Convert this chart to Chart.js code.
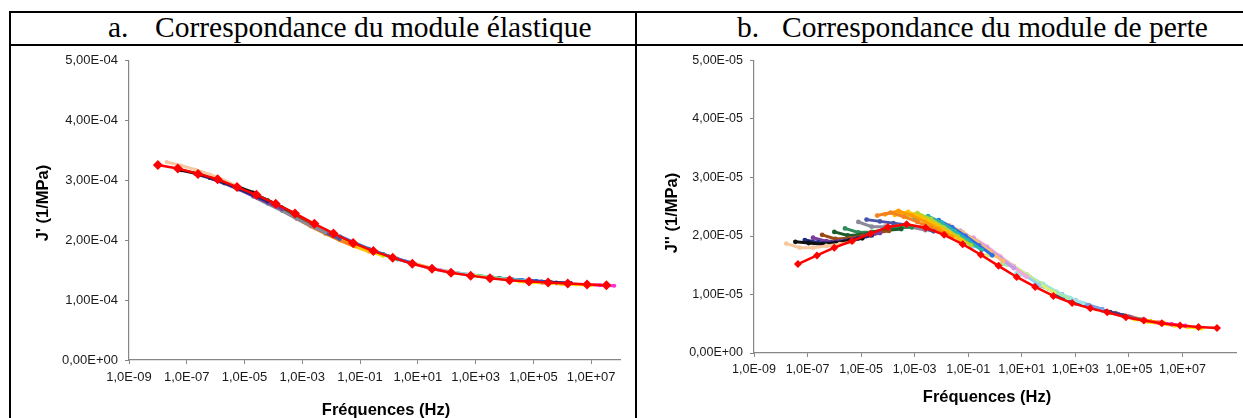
<!DOCTYPE html>
<html>
<head>
<meta charset="utf-8">
<script src="https://cdn.jsdelivr.net/npm/chart.js@4.4.0/dist/chart.umd.min.js"></script>
<style>
  body { margin: 0; background: #fff; width: 1243px; height: 418px; overflow: hidden; position: relative; }
  .rule { position: absolute; background: #000; z-index: 2; }
  .head { position: absolute; top: 9px; font-family: "Liberation Serif", "Times New Roman", serif; font-size: 29.5px; line-height: 36px; color: #000; white-space: nowrap; }
  canvas { position: absolute; }
</style>
</head>
<body>
<div class="rule" style="left:9px;top:11px;width:1234px;height:2px"></div>
<div class="rule" style="left:9px;top:44px;width:1234px;height:2px"></div>
<div class="rule" style="left:9px;top:11px;width:2px;height:407px"></div>
<div class="rule" style="left:635px;top:11px;width:2px;height:407px"></div>
<div class="head" style="left:108px">a.</div>
<div class="head" style="left:155px">Correspondance du module élastique</div>
<div class="head" style="left:737px">b.</div>
<div class="head" style="left:782px">Correspondance du module de perte</div>
<canvas id="chartA" width="636" height="372" style="left:0;top:46px"></canvas>
<canvas id="chartB" width="606" height="372" style="left:637px;top:46px"></canvas>
<script>
// frequences mesurees (Hz), identiques pour chaque isotherme
const measFreqs = [1, 3.16, 10, 31.6, 100, 316];

// graduations
const freqTicks = [1e-9, 1e-7, 1e-5, 1e-3, 1e-1, 1e1, 1e3, 1e5, 1e7];
const yTicksA = [0, 1e-4, 2e-4, 3e-4, 4e-4, 5e-4];
const yTicksB = [0, 1e-5, 2e-5, 3e-5, 4e-5, 5e-5];

// a. J' -- courbe maitresse (rouge), valeurs en 1e-4 1/MPa
const masterFreqA = [1.0e-8, 4.9e-8, 2.45e-7, 1.17e-6, 5.5e-6, 2.57e-5, 1.2e-4, 5.6e-4,
  2.63e-3, 1.2e-2, 5.75e-2, 0.288, 1.35, 6.46, 30.9, 141, 676, 3160, 1.51e4, 7.08e4,
  3.24e5, 1.55e6, 7.24e6, 3.39e7];
const masterJ1 = [3.26, 3.20, 3.11, 3.02, 2.89, 2.76, 2.61, 2.45, 2.275, 2.115, 1.957, 1.82,
  1.71, 1.607, 1.525, 1.459, 1.41, 1.365, 1.332, 1.31, 1.294, 1.278, 1.261, 1.25];

// a. isothermes : facteurs de decalage et J' (1e-4 1/MPa)
const shiftA = [2.0e-8, 6.3e-8, 2.0e-7, 6.3e-7, 2.0e-6, 6.3e-6, 2.0e-5, 6.3e-5, 2.0e-4, 6.3e-4,
  2.0e-3, 6.3e-3, 2.0e-2, 6.3e-2, 0.2, 0.63, 2.5, 10, 50, 250, 1260, 6300, 3.2e4, 2.0e5];
const isoJ1 = [
  [3.31, 3.25, 3.18, 3.10, 3.00, 2.89],
  [3.17, 3.12, 3.06, 2.98, 2.89, 2.80],
  [3.11, 3.04, 2.96, 2.86, 2.76, 2.65],
  [3.04, 2.95, 2.85, 2.74, 2.63, 2.52],
  [2.97, 2.88, 2.78, 2.67, 2.55, 2.43],
  [2.88, 2.78, 2.67, 2.55, 2.42, 2.29],
  [2.73, 2.61, 2.49, 2.36, 2.24, 2.13],
  [2.64, 2.51, 2.38, 2.25, 2.13, 2.02],
  [2.50, 2.36, 2.23, 2.11, 2.00, 1.90],
  [2.38, 2.24, 2.11, 2.00, 1.90, 1.81],
  [2.26, 2.13, 2.01, 1.91, 1.82, 1.74],
  [2.17, 2.05, 1.94, 1.84, 1.76, 1.68],
  [2.07, 1.96, 1.86, 1.77, 1.69, 1.62],
  [1.95, 1.85, 1.77, 1.69, 1.62, 1.56],
  [1.86, 1.77, 1.69, 1.62, 1.55, 1.50],
  [1.77, 1.69, 1.62, 1.55, 1.50, 1.46],
  [1.67, 1.60, 1.54, 1.49, 1.45, 1.42],
  [1.59, 1.53, 1.48, 1.44, 1.41, 1.37],
  [1.51, 1.47, 1.43, 1.40, 1.37, 1.345],
  [1.45, 1.42, 1.39, 1.36, 1.34, 1.32],
  [1.41, 1.38, 1.355, 1.335, 1.32, 1.305],
  [1.37, 1.345, 1.325, 1.31, 1.295, 1.285],
  [1.31, 1.295, 1.285, 1.272, 1.262, 1.25],
  [1.29, 1.28, 1.27, 1.26, 1.25, 1.24]
];
const colorsA = ['#f8c9a0', '#111111', '#1f2a80', '#7a3f9d', '#1d5c2a', '#9a4b14', '#8a8a9a', '#4a55a5',
  '#f58220', '#ffc000', '#e8e000', '#2bb5a8', '#2e6fe6', '#ffb870', '#c49be6', '#f6a6d6',
  '#8fd0f2', '#c8e85a', '#8fe08f', '#3cc8e0', '#2050d0', '#202070', '#ffe600', '#ff2fd0'];

// b. J'' -- courbe maitresse (rouge), valeurs en 1e-5 1/MPa
const masterFreqB = [4.37e-8, 2.24e-7, 1.0e-6, 4.57e-6, 2.24e-5, 1.0e-4, 5.0e-4, 2.57e-3,
  1.26e-2, 6.17e-2, 0.295, 1.35, 6.46, 31.6, 151, 759, 3630, 1.55e4, 7.76e4, 3.63e5,
  1.7e6, 8.13e6, 3.98e7, 1.95e8];
const masterJ2 = [1.52, 1.667, 1.80, 1.914, 2.04, 2.155, 2.20, 2.14, 2.02, 1.86, 1.68, 1.49,
  1.30, 1.13, 0.976, 0.853, 0.763, 0.695, 0.611, 0.556, 0.51, 0.471, 0.443, 0.426];

// b. isothermes : facteurs de decalage et J'' (1e-5 1/MPa)
const shiftB = [1.6e-8, 3.5e-8, 7.9e-8, 1.6e-7, 3.5e-7, 1.0e-6, 2.5e-6, 7.9e-6, 1.6e-5, 4.0e-5,
  7.9e-5, 1.8e-4, 4.0e-4, 1.0e-3, 2.5e-3, 6.3e-3, 1.6e-2, 5.0e-2, 0.14, 0.5, 1.6, 6.3, 32, 200,
  1000, 6300, 4.0e4, 1.6e5];
const isoJ2 = [
  [1.87, 1.80, 1.80, 1.83, 1.86, 1.90],
  [1.90, 1.88, 1.86, 1.88, 1.92, 1.96],
  [1.93, 1.89, 1.88, 1.91, 1.96, 2.01],
  [1.97, 1.91, 1.91, 1.95, 2.00, 2.05],
  [2.02, 1.95, 1.96, 2.00, 2.05, 2.09],
  [2.07, 2.01, 2.02, 2.06, 2.10, 2.12],
  [2.13, 2.06, 2.07, 2.11, 2.14, 2.15],
  [2.24, 2.16, 2.16, 2.17, 2.15, 2.10],
  [2.28, 2.25, 2.22, 2.19, 2.14, 2.08],
  [2.35, 2.40, 2.33, 2.24, 2.14, 2.03],
  [2.37, 2.43, 2.35, 2.24, 2.12, 1.99],
  [2.36, 2.41, 2.32, 2.20, 2.06, 1.92],
  [2.33, 2.39, 2.29, 2.14, 1.99, 1.84],
  [2.29, 2.34, 2.23, 2.08, 1.92, 1.76],
  [2.22, 2.27, 2.15, 2.00, 1.84, 1.67],
  [2.12, 2.18, 2.06, 1.91, 1.74, 1.57],
  [2.04, 2.09, 1.95, 1.79, 1.62, 1.45],
  [1.94, 1.97, 1.82, 1.65, 1.47, 1.30],
  [1.82, 1.80, 1.66, 1.49, 1.32, 1.17],
  [1.67, 1.64, 1.49, 1.33, 1.17, 1.03],
  [1.52, 1.48, 1.34, 1.19, 1.05, 0.94],
  [1.36, 1.30, 1.18, 1.05, 0.94, 0.85],
  [1.17, 1.10, 1.00, 0.90, 0.82, 0.75],
  [0.98, 0.92, 0.83, 0.76, 0.70, 0.64],
  [0.85, 0.79, 0.73, 0.68, 0.62, 0.57],
  [0.75, 0.69, 0.63, 0.585, 0.545, 0.515],
  [0.665, 0.61, 0.56, 0.52, 0.49, 0.465],
  [0.58, 0.535, 0.50, 0.47, 0.445, 0.425]
];
const colorsB = ['#f8c9a0', '#111111', '#1f2a80', '#7a3f9d', '#9a4b14', '#1d5c2a', '#2e8b57', '#8a8a9a',
  '#4a55a5', '#f58220', '#ff9a00', '#ffc000', '#b8d42a', '#2bb5a8', '#2e6fe6', '#ffb870',
  '#c49be6', '#f6a6d6', '#8fd0f2', '#d9ef7a', '#a8e8a8', '#9ce6e6', '#7aa3e6', '#3c3c80',
  '#707070', '#f2c200', '#ff2fd0', '#ffe600'];

function pad2(n) { return String(Math.abs(n)).padStart(2, '0'); }

function fmtFreq(v) {
  const e = Math.round(Math.log10(v));
  return '1,0E' + (e < 0 ? '-' : '+') + pad2(e);
}

function fmtSci(v) {
  if (v === 0) return '0,00E+00';
  const e = Math.floor(Math.log10(v) + 1e-9);
  const m = v / Math.pow(10, e);
  return m.toFixed(2).replace('.', ',') + 'E' + (e < 0 ? '-' : '+') + pad2(e);
}

function isoSets(shifts, values, unit, colors, width, radius) {
  return shifts.map((aT, i) => ({
    data: measFreqs.map((f, j) => ({ x: f * aT, y: values[i][j] * unit })),
    borderColor: colors[i],
    backgroundColor: colors[i],
    borderWidth: width,
    pointRadius: radius,
    pointBorderWidth: 0,
    showLine: true,
    order: 1
  }));
}

function masterSet(freqs, values, unit, radius) {
  return {
    data: freqs.map((f, i) => ({ x: f, y: values[i] * unit })),
    borderColor: '#ff0000',
    backgroundColor: '#ff0000',
    borderWidth: 2.5,
    pointStyle: 'rectRot',
    pointRadius: radius,
    pointBorderWidth: 0,
    showLine: true,
    order: 0
  };
}

// titres d'axes dessines a une position fixe (comme dans Excel)
const axisTitles = {
  id: 'axisTitles',
  afterDraw(chart, args, o) {
    const ctx = chart.ctx;
    ctx.save();
    ctx.fillStyle = '#000';
    ctx.font = 'bold ' + o.size + 'px "Liberation Sans", Arial, sans-serif';
    ctx.textAlign = 'center';
    ctx.textBaseline = 'middle';
    ctx.fillText(o.xText, o.xAt[0], o.xAt[1]);
    ctx.translate(o.yAt[0], o.yAt[1]);
    ctx.rotate(-Math.PI / 2);
    ctx.fillText(o.yText, 0, 0);
    ctx.restore();
  }
};

function makeOptions(c) {
  const axisGrey = '#868686';
  return {
    responsive: false,
    animation: false,
    devicePixelRatio: 1,
    layout: { padding: { left: 0, right: c.padRight, top: 10, bottom: 0 } },
    plugins: {
      legend: { display: false },
      tooltip: { enabled: false },
      axisTitles: { size: 16.5, xText: 'Fréquences (Hz)', yText: c.yTitle, xAt: c.xTitleAt, yAt: c.yTitleAt }
    },
    scales: {
      x: {
        type: 'logarithmic',
        min: 1e-9,
        max: c.xMax,
        afterBuildTicks: s => { s.ticks = freqTicks.map(v => ({ value: v })); },
        afterFit: s => { s.height = c.xHeight; },
        ticks: {
          callback: v => fmtFreq(v),
          autoSkip: false, maxRotation: 0,
          padding: c.xPad,
          color: '#1a1a1a',
          font: { family: 'Liberation Sans, Arial, sans-serif', size: c.tickSize }
        },
        grid: { drawOnChartArea: false, drawTicks: true, tickLength: 4, color: axisGrey },
        border: { color: axisGrey, width: 1.2 }
      },
      y: {
        min: 0,
        max: c.yTicks[c.yTicks.length - 1],
        afterBuildTicks: s => { s.ticks = c.yTicks.map(v => ({ value: v })); },
        afterFit: s => { s.width = c.yWidth; },
        ticks: {
          callback: v => fmtSci(v),
          padding: 7,
          color: '#1a1a1a',
          font: { family: 'Liberation Sans, Arial, sans-serif', size: c.tickSize }
        },
        grid: { drawOnChartArea: false, drawTicks: true, tickLength: 4, color: axisGrey },
        border: { color: axisGrey, width: 1.2 }
      }
    }
  };
}

new Chart(document.getElementById('chartA'), {
  type: 'scatter',
  data: {
    datasets: [masterSet(masterFreqA, masterJ1, 1e-4, 5)]
      .concat(isoSets(shiftA, isoJ1, 1e-4, colorsA, 3, 2))
  },
  options: makeOptions({
    padRight: 16, xMax: 1e8, xHeight: 58, xPad: 6, tickSize: 13,
    yTicks: yTicksA, yWidth: 129, yTitle: "J' (1/MPa)",
    xTitleAt: [386, 364], yTitleAt: [43, 157]
  }),
  plugins: [axisTitles]
});

new Chart(document.getElementById('chartB'), {
  type: 'scatter',
  data: {
    datasets: [masterSet(masterFreqB, masterJ2, 1e-5, 4)]
      .concat(isoSets(shiftB, isoJ2, 1e-5, colorsB, 3, 2.4))
  },
  options: makeOptions({
    padRight: 7, xMax: 1e9, xHeight: 65, xPad: 5, tickSize: 12.5,
    yTicks: yTicksB, yWidth: 117, yTitle: "J'' (1/MPa)",
    xTitleAt: [350, 351], yTitleAt: [35, 167]
  }),
  plugins: [axisTitles]
});
</script>
</body>
</html>
